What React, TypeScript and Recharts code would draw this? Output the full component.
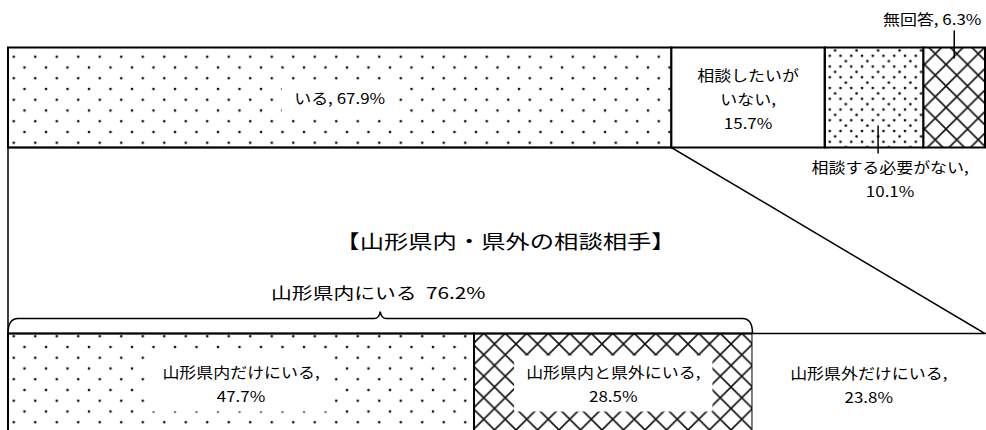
import { Bar, BarChart, ReferenceLine, XAxis, YAxis } from "recharts";

const rowKeys = ["all", "title", "pref"];
const topNames = ["いる", "相談したいが\nいない", "相談する必要がない", "無回答"];
const topValues = [67.9, 15.7, 10.1, 6.3];
const bottomNames = ["山形県内だけにいる", "山形県内と県外にいる", "山形県外だけにいる"];
const bottomValues = [47.7, 28.5, 23.8];
const titleText = "【山形県内・県外の相談相手】";
const braceName = "山形県内にいる";
const braceValue = 76.2;

type LabelMode = "box" | "plain" | "below" | "above";
type SegStyle = { fill: string; stroke: boolean; label: LabelMode; inline: boolean };
type Seg = SegStyle & { key: string; name: string; value: number };
type Rect = { x: number; y: number; width: number; height: number };

const topStyle: SegStyle[] = [
  { fill: "url(#dotsSparse)", stroke: true, label: "box", inline: true },
  { fill: "#fff", stroke: true, label: "plain", inline: false },
  { fill: "url(#dotsDense)", stroke: true, label: "below", inline: false },
  { fill: "url(#diamond)", stroke: true, label: "above", inline: true },
];
const bottomStyle: SegStyle[] = [
  { fill: "url(#dotsSparse)", stroke: true, label: "box", inline: false },
  { fill: "url(#diamond)", stroke: true, label: "box", inline: false },
  { fill: "#fff", stroke: false, label: "plain", inline: false },
];

const topSegs: Seg[] = topNames.map((name, i) => ({ ...topStyle[i], key: `t${i}`, name, value: topValues[i] }));
const bottomSegs: Seg[] = bottomNames.map((name, i) => ({ ...bottomStyle[i], key: `b${i}`, name, value: bottomValues[i] }));

const data = [
  { row: rowKeys[0], ...Object.fromEntries(topSegs.map((s) => [s.key, s.value])) },
  { row: rowKeys[1] },
  { row: rowKeys[2], ...Object.fromEntries(bottomSegs.map((s) => [s.key, s.value])) },
];

const FONT = "'Noto Sans CJK JP', 'Noto Sans CJK SC', sans-serif";
const LINE = 24;
const INK = "#000";
const SX = 1.13; // the source text is drawn a little wide

// bar rectangles as laid out by recharts, used for the connector and brace
const geo: Record<string, Rect> = {};

const pct = (v: number) => `${v.toFixed(1)}%`;

const labelLines = (name: string, value: number, inline: boolean) => {
  if (inline) return [`${name}, ${pct(value)}`];
  const parts = name.split("\n");
  parts[parts.length - 1] += ",";
  return [...parts, pct(value)];
};

const textWidth = (s: string, size: number) =>
  [...s].reduce((w, c) => w + (/[\x00-\x7f]/.test(c) ? size * 0.52 : size), 0) * SX;

function WideText({ x, y, size, sx = SX, children, weight = 400 }: any) {
  return (
    <text
      transform={`translate(${x},${y}) scale(${sx},1)`}
      textAnchor="middle"
      dominantBaseline="central"
      fontFamily={FONT}
      fontSize={size}
      fontWeight={weight}
      fill={INK}
    >
      {children}
    </text>
  );
}

function TextLines({ cx, cy, lines, size = 15 }: { cx: number; cy: number; lines: string[]; size?: number }) {
  const top = cy - ((lines.length - 1) * LINE) / 2;
  return (
    <>
      {lines.map((t, i) => (
        <WideText key={i} x={cx} y={top + i * LINE} size={size}>
          {t}
        </WideText>
      ))}
    </>
  );
}

function Connector() {
  const t0 = geo.t0;
  const b0 = geo.b0;
  const b1 = geo.b1;
  const b2 = geo.b2;
  if (!t0 || !b0 || !b1 || !b2) return null;
  const topY = t0.y + t0.height;
  const pts = [
    [t0.x, topY],
    [t0.x + t0.width, topY],
    [b2.x + b2.width, b2.y],
    [b0.x, b2.y],
  ];
  const x0 = b0.x;
  const x1 = b1.x + b1.width;
  const yBase = b0.y;
  const yLine = yBase - 15;
  const tip = yLine - 7;
  const cx = (x0 + x1) / 2;
  const r = 10;
  const brace = `M${x0},${yBase} Q${x0},${yLine} ${x0 + r},${yLine} L${cx - 6},${yLine} Q${cx - 1},${yLine} ${cx},${tip} Q${cx + 1},${yLine} ${cx + 6},${yLine} L${x1 - r},${yLine} Q${x1},${yLine} ${x1},${yBase}`;
  return (
    <g>
      <polygon points={pts.map((p) => p.join(",")).join(" ")} fill="none" stroke={INK} strokeWidth={1.5} />
      <path d={brace} fill="none" stroke={INK} strokeWidth={1.5} />
      <WideText x={cx - 2} y={yBase - 42} size={16} sx={1.3}>
        {`${braceName}\u00a0\u00a0${pct(braceValue)}`}
      </WideText>
    </g>
  );
}

const makeShape = (seg: Seg, last: boolean) => (props: any) => {
  const { x, y, width, height } = props;
  if (!(width > 0) || !(height > 0)) return <g />;
  geo[seg.key] = { x, y, width, height };
  const cx = x + width / 2;
  const cy = y + height / 2;
  const lines = labelLines(seg.name, seg.value, seg.inline);
  let label = null;
  if (seg.label === "box") {
    const w = Math.max(...lines.map((l) => textWidth(l, 15))) + 20;
    const h = (lines.length - 1) * LINE + 32;
    label = (
      <>
        <rect x={cx - w / 2} y={cy - h / 2} width={w} height={h} fill="#fff" />
        <TextLines cx={cx} cy={cy} lines={lines} />
      </>
    );
  } else if (seg.label === "plain") {
    label = <TextLines cx={cx} cy={cy + 1} lines={lines} />;
  } else if (seg.label === "below") {
    const b = y + height;
    label = (
      <>
        <line x1={cx + 4} x2={cx + 4} y1={b - 22} y2={b + 6} stroke={INK} strokeWidth={1.5} />
        <TextLines cx={cx + 16} cy={b + 31} lines={lines} />
      </>
    );
  } else {
    label = (
      <>
        <line x1={cx} x2={cx} y1={y - 17} y2={y + 11} stroke={INK} strokeWidth={1.5} />
        <TextLines cx={cx - 22} cy={y - 29} lines={lines} />
      </>
    );
  }
  return (
    <g>
      <rect x={x} y={y} width={width} height={height} fill={seg.fill} stroke={seg.stroke ? INK : "none"} strokeWidth={2} />
      {label}
      {last && <Connector />}
    </g>
  );
};

function Patterns() {
  const s = 21.5;
  const h = s / 2;
  const q = s / 4;
  const dot = (cx: number, cy: number) => <circle cx={cx} cy={cy} r={1.35} fill="#111" />;
  return (
    <svg width={0} height={0} style={{ position: "absolute" }}>
      <defs>
        <pattern id="dotsSparse" width={s} height={s} patternUnits="userSpaceOnUse">
          {dot(3, 3)}
          {dot(3 + h, 3 + h)}
        </pattern>
        <pattern id="dotsDense" width={s} height={s} patternUnits="userSpaceOnUse">
          {dot(2, 2)}
          {dot(2 + h, 2)}
          {dot(2 + 3 * q, 2 + q)}
          {dot(2, 2 + h)}
          {dot(2 + h, 2 + h)}
          {dot(2 + q, 2 + 3 * q)}
        </pattern>
        <pattern id="diamond" width={s} height={s} patternUnits="userSpaceOnUse">
          <rect width={s} height={s} fill="#fff" />
          <path d={`M0,0 L${s},${s} M${s},0 L0,${s}`} stroke="#111" strokeWidth={1.6} />
        </pattern>
      </defs>
    </svg>
  );
}

const renderTitle = (p: any) => {
  const vb = p.viewBox || {};
  const cx = (vb.x ?? 0) + (vb.width ?? 0) / 2 + 9;
  const cy = (vb.y ?? 0) + (vb.height ?? 0) / 2 + 1;
  return (
    <WideText x={cx} y={cy} size={19} sx={1.28}>
      {titleText}
    </WideText>
  );
};

export default function App() {
  const segs = [...topSegs, ...bottomSegs];
  return (
    <div style={{ position: "absolute", left: 0, top: 0, width: 986, height: 430, overflow: "hidden", background: "#fff" }}>
      <Patterns />
      <BarChart
        layout="vertical"
        width={986}
        height={456}
        data={data}
        barSize={100}
        margin={{ top: 25.5, right: 1, bottom: 1.5, left: 8 }}
      >
        <XAxis type="number" domain={[0, 100]} hide />
        <YAxis type="category" dataKey="row" hide />
        {segs.map((seg, i) => (
          <Bar
            key={seg.key}
            dataKey={seg.key}
            stackId="share"
            isAnimationActive={false}
            shape={makeShape(seg, i === segs.length - 1)}
          />
        ))}
        <ReferenceLine y={rowKeys[1]} stroke="none" label={renderTitle} />
      </BarChart>
    </div>
  );
}
